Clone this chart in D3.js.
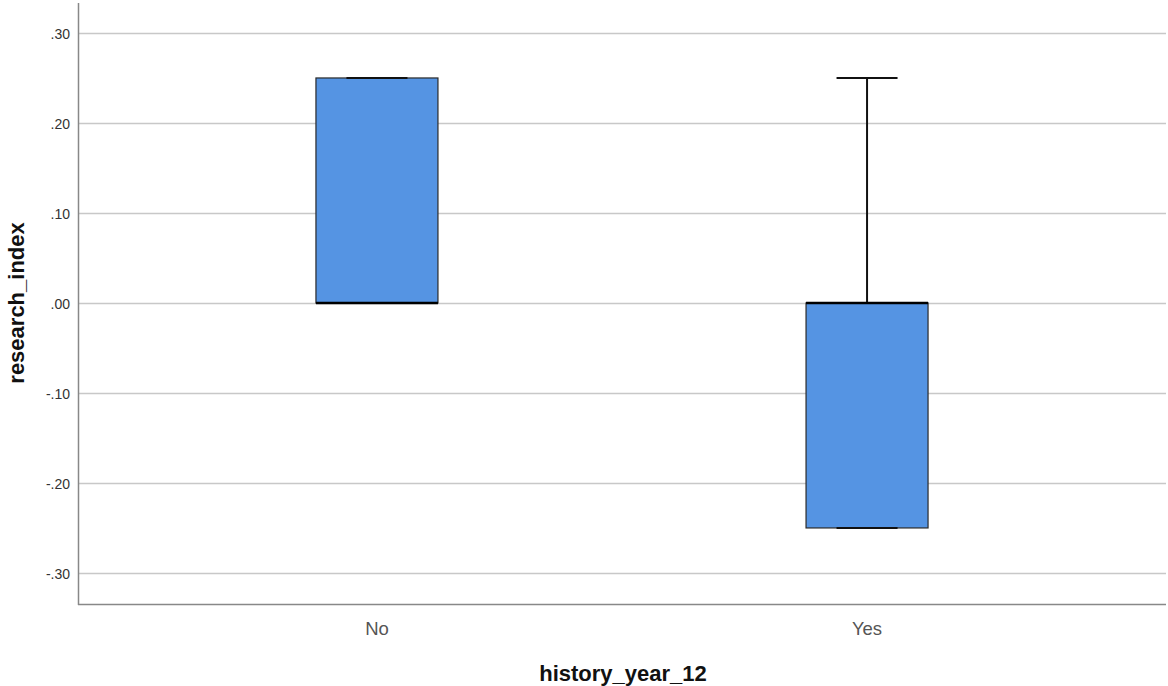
<!DOCTYPE html>
<html><head><meta charset="utf-8">
<script src="https://cdn.jsdelivr.net/npm/d3@7"></script>
<style>body{margin:0;background:#fff}svg{display:block}</style>
</head><body>
<svg id="c" width="1168" height="686"></svg>
<script>
const categories = ["No", "Yes"];
const q1 = [0.00, -0.25];
const median = [0.00, 0.00];
const q3 = [0.25, 0.00];
const whiskerLow = [0.00, -0.25];
const whiskerHigh = [0.25, 0.25];
const yTicks = [-0.30, -0.20, -0.10, 0.00, 0.10, 0.20, 0.30];
const yTickLabels = ["-.30", "-.20", "-.10", ".00", ".10", ".20", ".30"];

(function () {
const svg = d3.select("#c");
const pLeft = 78, pRight = 1166, pTop = 3, pBottom = 604;
const y = d3.scaleLinear().domain([-0.3345, 0.3333]).range([pBottom, pTop]);
const x = d3.scalePoint().domain(categories).range([pLeft, pRight]).padding(0.61);
const boxW = 122, capW = 61;
const font = "Arial, 'Liberation Sans', sans-serif";

// grid
svg.append("g").selectAll("line").data(yTicks).join("line")
  .attr("x1", pLeft).attr("x2", pRight)
  .attr("y1", d => Math.round(y(d)) + 0.5).attr("y2", d => Math.round(y(d)) + 0.5)
  .attr("stroke", "#c8c8c8").attr("stroke-width", 1.5);

// y tick labels
svg.append("g").selectAll("text").data(yTicks).join("text")
  .attr("x", 70).attr("y", d => y(d) + 6)
  .attr("text-anchor", "end").attr("font-family", font)
  .attr("font-size", 14).attr("fill", "#333")
  .text((d, i) => yTickLabels[i]);

// axes
svg.append("line").attr("x1", pLeft + 0.5).attr("x2", pLeft + 0.5).attr("y1", pTop).attr("y2", pBottom + 1)
  .attr("stroke", "#888").attr("stroke-width", 1.5);
svg.append("line").attr("x1", pLeft).attr("x2", pRight).attr("y1", pBottom + 0.5).attr("y2", pBottom + 0.5)
  .attr("stroke", "#888").attr("stroke-width", 1.5);

// boxes
const g = svg.append("g");
categories.forEach((c, i) => {
  const cx = x(c);
  if (whiskerHigh[i] > q3[i]) {
    g.append("line").attr("x1", cx).attr("x2", cx).attr("y1", y(q3[i])).attr("y2", y(whiskerHigh[i]))
      .attr("stroke", "#111").attr("stroke-width", 2);
  }
  if (whiskerLow[i] < q1[i]) {
    g.append("line").attr("x1", cx).attr("x2", cx).attr("y1", y(q1[i])).attr("y2", y(whiskerLow[i]))
      .attr("stroke", "#111").attr("stroke-width", 2);
  }
  g.append("rect").attr("x", cx - boxW / 2).attr("width", boxW)
    .attr("y", y(q3[i])).attr("height", y(q1[i]) - y(q3[i]))
    .attr("fill", "#5594e3").attr("stroke", "#2a2a2a").attr("stroke-width", 1.2);
  g.append("line").attr("x1", cx - capW / 2).attr("x2", cx + capW / 2)
    .attr("y1", y(whiskerHigh[i])).attr("y2", y(whiskerHigh[i]))
    .attr("stroke", "#111").attr("stroke-width", 2);
  g.append("line").attr("x1", cx - capW / 2).attr("x2", cx + capW / 2)
    .attr("y1", y(whiskerLow[i])).attr("y2", y(whiskerLow[i]))
    .attr("stroke", "#111").attr("stroke-width", 2);
  g.append("line").attr("x1", cx - boxW / 2).attr("x2", cx + boxW / 2)
    .attr("y1", y(median[i])).attr("y2", y(median[i]))
    .attr("stroke", "#000").attr("stroke-width", 2.5);
});

// category labels
svg.append("g").selectAll("text").data(categories).join("text")
  .attr("x", d => x(d)).attr("y", 635).attr("text-anchor", "middle")
  .attr("font-family", font).attr("font-size", 18.5).attr("fill", "#555")
  .text(d => d);

// titles
svg.append("text").attr("x", (pLeft + pRight) / 2 + 1).attr("y", 681).attr("text-anchor", "middle")
  .attr("font-family", font).attr("font-size", 22).attr("font-weight", "bold")
  .attr("fill", "#111").text("history_year_12");
svg.append("text").attr("transform", `translate(23.5,${y(0)}) rotate(-90)`).attr("text-anchor", "middle")
  .attr("font-family", font).attr("font-size", 22).attr("font-weight", "bold")
  .attr("fill", "#111").text("research_index");
})();
</script>
</body></html>
